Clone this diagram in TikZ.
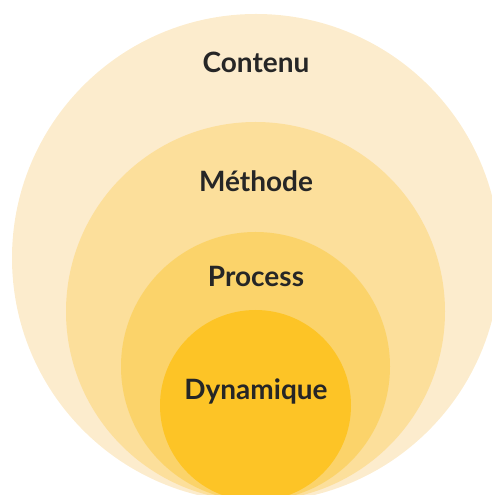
\documentclass[tikz,border=0pt]{standalone}
\usepackage{fontspec}
\setmainfont{Lato}
\definecolor{contenu}{RGB}{252,236,205}
\definecolor{methode}{RGB}{252,223,155}
\definecolor{process}{RGB}{251,211,106}
\definecolor{dynamique}{RGB}{253,196,38}
\tikzset{label/.style={anchor=base, text=black!85, font=\fontsize{28}{30}\selectfont\bfseries}}
\begin{document}
\begin{tikzpicture}[x=1pt,y=1pt]
            \useasboundingbox (0,0) rectangle (492,495);
            \clip (0,0) rectangle (492,495);
            \fill[contenu] (256,237) circle (244);
            \fill[methode] (255.5,183.5) circle (189.5);
            \fill[process] (255.5,128.5) circle (134.5);
            \fill[dynamique] (255.5,89.5) circle (95.5);
            \node[label] (contenu) at (256,422) {Contenu};
            \node[label] (methode) at (256,303) {Méthode};
            \node[label] (process) at (256,208) {Process};
            \node[label] (dynamique) at (256,95) {Dynamique};
        \end{tikzpicture}
\end{document}
